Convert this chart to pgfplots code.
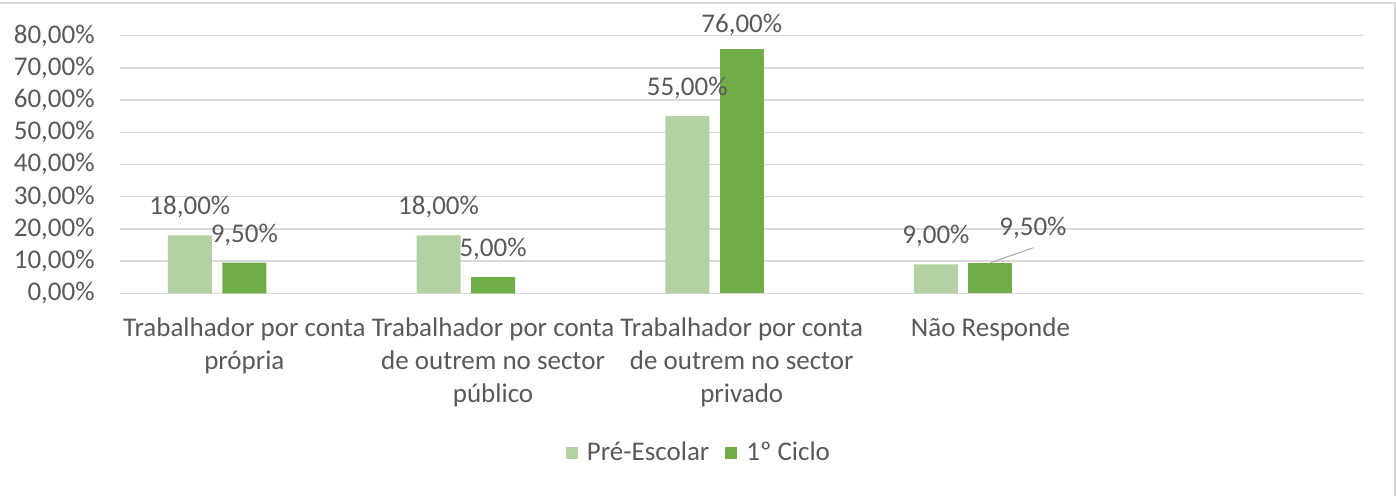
\documentclass[border=0pt]{standalone}
\usepackage{fontspec}
\setmainfont{Carlito}
\usepackage{pgfplots}
\pgfplotsset{compat=1.18}

\definecolor{preesc}{HTML}{B3D1A2}
\definecolor{ciclo}{HTML}{70AD47}
\definecolor{txt}{HTML}{595959}
\definecolor{gridc}{HTML}{D9D9D9}

\newcommand{\pct}[1]{\pgfmathprintnumber[fixed,fixed zerofill,precision=2,use comma]{#1}\%}

\begin{document}
\begin{tikzpicture}[font=\fontsize{13.5}{16.5}\selectfont]
  % page = 1396 x 496 px, 1 px = 0.5pt
  \path[use as bounding box] (0,0) rectangle (698pt,248pt);
  \draw[gridc, line width=0.75pt] (-1pt,246.5pt) -- (697.5pt,246.5pt) -- (697.5pt,-1pt);

  \begin{axis}[
      at={(60pt,101.35pt)}, anchor=south west,
      scale only axis,
      width=621.75pt, height=128.8pt,
      xmin=-0.5, xmax=4.5,
      ymin=0, ymax=80,
      ytick={0,10,...,80},
      xtick={0,1,2,3},
      xticklabels={Trabalhador por conta\\própria,
                   Trabalhador por conta\\de outrem no sector\\público,
                   Trabalhador por conta\\de outrem no sector\\privado,
                   Não Responde},
      axis line style={draw=none},
      major tick length=0pt,
      ymajorgrids,
      grid style={gridc, line width=0.75pt},
      /pgf/number format/assume math mode=true,
      yticklabel={\pct{\tick}},
      yticklabel style={anchor=east, inner sep=0pt, xshift=-12.5pt, text=txt},
      xticklabel style={anchor=north, align=center, inner sep=0pt, yshift=-12pt, text=txt},
      nodes near coords={\pct{\pgfplotspointmeta}},
      nodes near coords style={anchor=center, inner sep=0pt, yshift=14pt, text=txt},
      legend style={at={(0.4664,-0.62)}, anchor=center, draw=none, fill=none,
                    legend columns=-1, text=txt,
                    /tikz/every odd column/.append style={column sep=2.5pt},
                    /tikz/every even column/.append style={column sep=6pt}},
      legend image code/.code={\fill[#1] (0pt,-3pt) rectangle (6pt,3pt);},
    ]
    % Pré-Escolar
    \addplot[ybar, bar width=22pt, bar shift=-27.25pt, fill=preesc, draw=none,
             nodes near coords style={xshift=-27.25pt}]
      coordinates {(0,18) (1,18) (2,55) (3,9)};
    \addlegendentry{Pré-Escolar}
    % 1º Ciclo
    \addplot[ybar, bar width=22pt, bar shift=0pt, fill=ciclo, draw=none]
      coordinates {(0,9.5) (1,5)};
    \addlegendentry{1º Ciclo}
    \addplot[ybar, bar width=22pt, bar shift=0pt, fill=ciclo, draw=none, forget plot,
             nodes near coords style={yshift=-2.2pt}]
      coordinates {(2,76)};
    \addplot[ybar, bar width=22pt, bar shift=0pt, fill=ciclo, draw=none, forget plot,
             nodes near coords style={xshift=21.25pt, yshift=3.35pt}]
      coordinates {(3,9.5)};
    \draw[gray!70, line width=0.5pt] (axis cs:3,9.5) -- ++(21.5pt,7.5pt);
  \end{axis}
\end{tikzpicture}
\end{document}
